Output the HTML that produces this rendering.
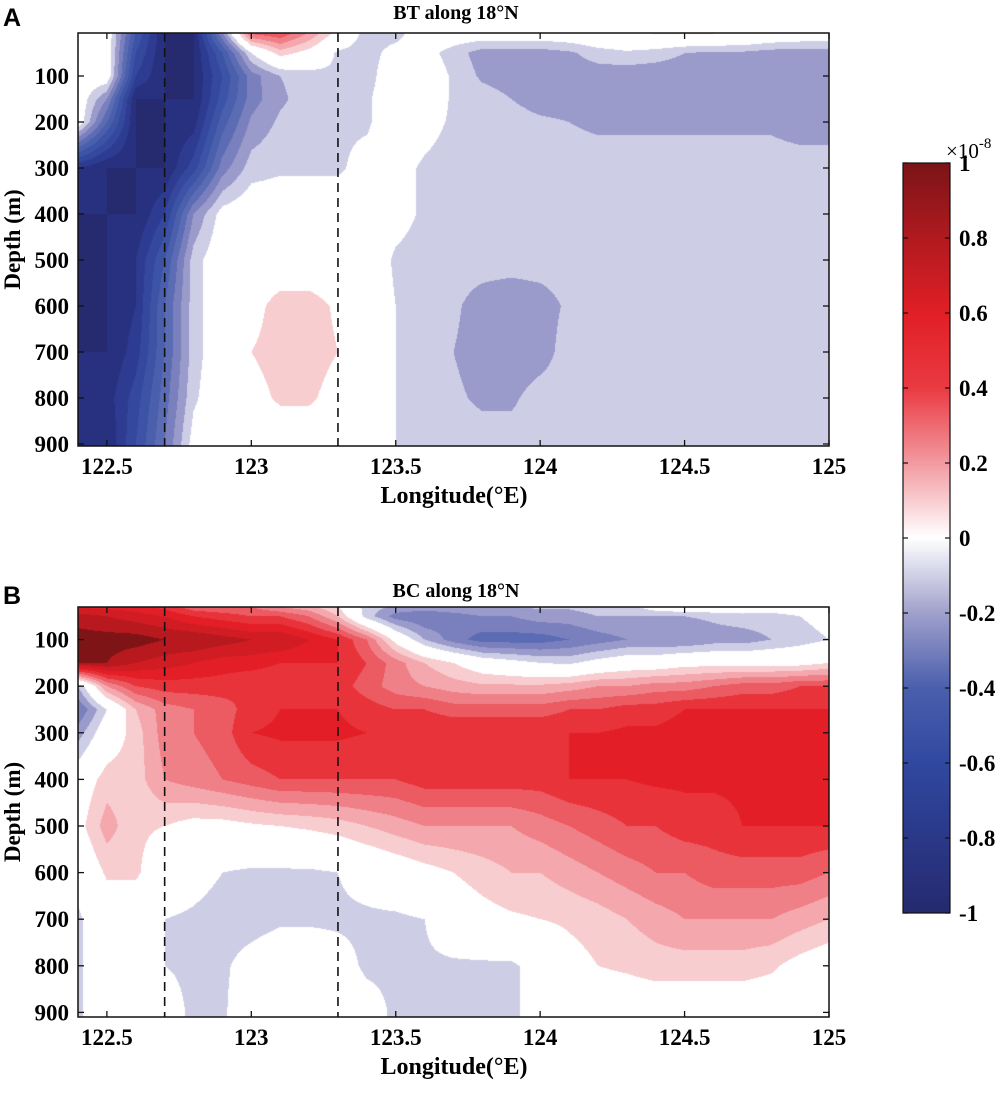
<!DOCTYPE html>
<html><head><meta charset="utf-8"><style>
body{margin:0;background:#fff;width:1005px;height:1095px;position:relative;overflow:hidden;font-family:"Liberation Serif",serif}
</style></head><body>
<svg id="svg" width="1005" height="1095" style="position:absolute;left:0;top:0"></svg>
<script>
const lons=[122.4,122.5,122.6,122.7,122.8,122.9,123.0,123.1,123.2,123.3,123.4,123.5,123.6,123.7,123.8,123.9,124.0,124.1,124.2,124.3,124.4,124.5,124.6,124.7,124.8,124.9,125.0];
const depthsA=[5,50,100,150,200,300,400,500,600,700,800,900];
const valuesA=[
[0,0,-0.6,-1,-1,-0.3,0.45,0.5,0.3,0.05,-0.15,-0.15,0,0,0,0,0,0.02,0.05,0.08,0.12,0.12,0.12,0.1,0.05,0.02,0],
[0,0,-0.7,-1,-1,-0.6,-0.1,0.15,0.05,-0.12,-0.15,-0.05,-0.05,-0.15,-0.25,-0.25,-0.25,-0.22,-0.15,-0.12,-0.15,-0.2,-0.22,-0.22,-0.25,-0.25,-0.25],
[0,0,-0.8,-1,-1,-0.7,-0.35,-0.2,-0.15,-0.12,-0.15,0,0,-0.12,-0.22,-0.25,-0.26,-0.26,-0.26,-0.27,-0.27,-0.27,-0.28,-0.28,-0.28,-0.28,-0.28],
[0,-0.3,-1,-1,-1,-0.65,-0.35,-0.22,-0.15,-0.12,-0.12,0,0,-0.12,-0.15,-0.2,-0.25,-0.25,-0.25,-0.25,-0.25,-0.25,-0.25,-0.25,-0.25,-0.25,-0.25],
[0,-0.5,-1,-1,-0.95,-0.55,-0.28,-0.18,-0.15,-0.12,-0.12,0,-0.05,-0.12,-0.15,-0.15,-0.18,-0.2,-0.22,-0.22,-0.22,-0.22,-0.22,-0.22,-0.22,-0.25,-0.25],
[-0.9,-1,-1,-1,-0.75,-0.35,-0.15,-0.12,-0.12,-0.12,-0.05,-0.05,-0.12,-0.15,-0.15,-0.15,-0.15,-0.15,-0.15,-0.15,-0.15,-0.15,-0.15,-0.15,-0.15,-0.15,-0.15],
[-1,-1,-1,-0.8,-0.3,-0.05,0,0,0,0,0,-0.05,-0.12,-0.15,-0.15,-0.15,-0.15,-0.15,-0.15,-0.15,-0.15,-0.15,-0.15,-0.15,-0.15,-0.15,-0.15],
[-1,-1,-0.9,-0.6,-0.15,0,0,0,0,0,0,-0.12,-0.15,-0.15,-0.15,-0.15,-0.15,-0.15,-0.15,-0.15,-0.15,-0.15,-0.15,-0.15,-0.15,-0.15,-0.15],
[-1,-1,-0.9,-0.5,-0.15,0,0.05,0.15,0.15,0.08,0,-0.1,-0.15,-0.18,-0.25,-0.28,-0.25,-0.18,-0.15,-0.15,-0.15,-0.15,-0.15,-0.15,-0.15,-0.15,-0.15],
[-1,-1,-0.85,-0.5,-0.15,0,0.1,0.15,0.15,0.1,0,-0.1,-0.15,-0.2,-0.25,-0.28,-0.25,-0.15,-0.15,-0.15,-0.15,-0.15,-0.15,-0.15,-0.15,-0.15,-0.15],
[-1,-0.95,-0.75,-0.45,-0.12,0,0.05,0.12,0.12,0.05,0,-0.1,-0.15,-0.18,-0.22,-0.22,-0.15,-0.15,-0.15,-0.15,-0.15,-0.15,-0.15,-0.15,-0.15,-0.15,-0.15],
[-0.9,-1,-0.7,-0.4,-0.05,0,0,0,0,0,0,-0.1,-0.15,-0.15,-0.15,-0.15,-0.15,-0.15,-0.15,-0.15,-0.15,-0.15,-0.15,-0.15,-0.15,-0.15,-0.15]];
const depthsB=[20,50,100,150,200,250,300,400,500,600,700,800,900];
const valuesB=[
[0.6,0.6,0.6,0.5,0.35,0.35,0.35,0.2,0.15,0.05,-0.15,-0.15,-0.15,-0.15,-0.15,-0.15,-0.15,-0.15,-0.12,-0.12,0.05,0.12,0.12,0.1,0.05,0.05,0.12],
[0.85,0.8,0.75,0.7,0.6,0.55,0.5,0.5,0.4,0.2,-0.15,-0.35,-0.4,-0.35,-0.3,-0.3,-0.25,-0.25,-0.2,-0.2,-0.2,-0.2,-0.18,-0.15,-0.15,-0.1,-0.05],
[0.95,0.95,0.95,0.9,0.9,0.85,0.8,0.8,0.7,0.6,0.4,0.05,-0.2,-0.35,-0.45,-0.45,-0.45,-0.4,-0.35,-0.3,-0.3,-0.3,-0.25,-0.25,-0.2,-0.15,-0.1],
[0.9,0.9,0.8,0.75,0.7,0.65,0.65,0.6,0.6,0.6,0.5,0.35,0.2,0.1,0,-0.05,-0.1,-0.12,-0.05,0,0,0.05,0.05,0.05,0.05,0.05,0.1],
[-0.2,0.3,0.5,0.55,0.55,0.55,0.5,0.5,0.55,0.55,0.45,0.35,0.3,0.25,0.22,0.22,0.22,0.25,0.3,0.3,0.35,0.35,0.4,0.45,0.45,0.5,0.5],
[-0.4,-0.1,0.2,0.35,0.4,0.45,0.55,0.6,0.6,0.6,0.55,0.5,0.5,0.45,0.45,0.45,0.45,0.5,0.5,0.55,0.55,0.6,0.6,0.6,0.6,0.6,0.6],
[-0.25,0,0.15,0.35,0.4,0.45,0.6,0.62,0.62,0.62,0.6,0.6,0.6,0.6,0.6,0.6,0.6,0.6,0.6,0.62,0.62,0.65,0.65,0.65,0.65,0.7,0.65],
[0,0.15,0.15,0.3,0.35,0.4,0.45,0.5,0.5,0.5,0.5,0.5,0.55,0.55,0.55,0.55,0.55,0.6,0.6,0.6,0.62,0.62,0.62,0.62,0.62,0.65,0.65],
[0.05,0.25,0.12,0.1,0.05,0.05,0.08,0.1,0.12,0.15,0.2,0.25,0.3,0.3,0.3,0.3,0.35,0.4,0.45,0.5,0.5,0.55,0.55,0.6,0.6,0.6,0.6],
[-0.05,0.12,0.12,0,-0.05,-0.1,-0.12,-0.12,-0.12,-0.1,-0.05,0,0.05,0.1,0.15,0.2,0.2,0.25,0.3,0.35,0.4,0.4,0.45,0.45,0.45,0.45,0.4],
[-0.12,0,0,-0.1,-0.12,-0.15,-0.15,-0.12,-0.12,-0.12,-0.12,-0.12,-0.1,0,0.05,0.08,0.1,0.12,0.15,0.2,0.25,0.3,0.3,0.3,0.3,0.25,0.2],
[-0.12,0,0,-0.1,-0.12,-0.12,-0.05,0,0,-0.05,-0.12,-0.12,-0.12,-0.12,-0.12,-0.12,-0.05,0.05,0.1,0.12,0.15,0.15,0.15,0.15,0.12,0.05,0],
[-0.12,0,0,-0.05,-0.12,-0.12,0,0,0,0,-0.05,-0.12,-0.12,-0.12,-0.12,-0.12,-0.05,0,0,0,0,0,0,0,0,0,0]];
const xTicks=[122.5,123,123.5,124,124.5,125];
const xTickLabels=["122.5","123","123.5","124","124.5","125"];
const yTicks=[100,200,300,400,500,600,700,800,900];
const cbTicks=[1,0.8,0.6,0.4,0.2,0,-0.2,-0.4,-0.6,-0.8,-1];
const cbTickLabels=["1","0.8","0.6","0.4","0.2","0","-0.2","-0.4","-0.6","-0.8","-1"];
const dashedLons=[122.7,123.3];

const posCols=["#ffffff","#f8cdd0","#f4a8ad","#f08088","#ec5a62","#e8333a","#e31e26","#d21c23","#b8191e","#7f1416","#7f1416"];
const negCols=["#ffffff","#cdcde6","#9a9acb","#7a80bd","#5c6cb4","#4a60ad","#3c53a6","#34489d","#2d3c90","#283180","#262a6e"];
function bandColor(v){
  if(v>=0.1) return posCols[Math.min(10,Math.floor(v*10+1e-9))];
  if(v<=-0.1) return negCols[Math.min(10,Math.floor(-v*10+1e-9))];
  return "#ffffff";
}
const X0=78,X1=829,L0=122.4,L1=125;
const xs=l=>X0+(l-L0)/(L1-L0)*(X1-X0);
const NS="http://www.w3.org/2000/svg";
const svg=document.getElementById('svg');
function mk(tag,attrs,parent){const e=document.createElementNS(NS,tag);for(const k in attrs)e.setAttribute(k,attrs[k]);(parent||svg).appendChild(e);return e;}
function interp(grid,depths,lon,d){
  let fi=(lon-L0)/0.1; fi=Math.max(0,Math.min(lons.length-1.0001,fi));
  const i=Math.floor(fi),tx=fi-i;
  let j=0; if(d<=depths[0]){j=0;} else {while(j<depths.length-2&&d>depths[j+1])j++;}
  let ty=(d-depths[j])/(depths[j+1]-depths[j]); ty=Math.max(0,Math.min(1,ty));
  const a=grid[j][i],b=grid[j][i+1],c=grid[j+1][i],e=grid[j+1][i+1];
  return (a*(1-tx)+b*tx)*(1-ty)+(c*(1-tx)+e*tx)*ty;
}
function panel(name,grid,depths,top,bot,d0,scale,title,letter,titleY){
  const g=mk('g',{});
  
  
  const ys=d=>d0+d*scale;
  const fo=mk('foreignObject',{x:X0,y:top,width:X1-X0,height:bot-top},g);
  const cv=document.createElement('canvas');cv.width=X1-X0;cv.height=bot-top;
  
  
  fo.appendChild(cv);
  const ctx=cv.getContext('2d');
  for(let py=0;py<cv.height;py++){
    const d=(top+py+0.5-d0)/scale;
    for(let px=0;px<cv.width;px++){
      const lon=L0+(px+0.5)/(X1-X0)*(L1-L0);
      ctx.fillStyle=bandColor(interp(grid,depths,lon,d));
      ctx.fillRect(px,py,1,1);
    }
  }
  dashedLons.forEach(l=>{const ln=mk('line',{x1:xs(l),x2:xs(l),y1:top,y2:bot,stroke:'#111','stroke-width':1.6,'stroke-dasharray':'9,6'},g);
    
    });
  const fr=mk('rect',{x:X0,y:top,width:X1-X0,height:bot-top,fill:'none',stroke:'#111','stroke-width':1.5},g);
  
  
  xTicks.forEach((t,k)=>{const x=xs(t);
    mk('line',{x1:x,x2:x,y1:top,y2:top+6,stroke:'#111','stroke-width':1.3},g);
    mk('line',{x1:x,x2:x,y1:bot,y2:bot-6,stroke:'#111','stroke-width':1.3},g);
    const tx=mk('text',{x:x,y:bot+28,'text-anchor':'middle','font-size':23,'font-weight':'bold','font-family':'Liberation Serif, serif'},g);
    tx.textContent=xTickLabels[k];
    
    });
  yTicks.forEach(t=>{const y=ys(t);if(y>bot+2)return;
    mk('line',{x1:X0,x2:X0+6,y1:y,y2:y,stroke:'#111','stroke-width':1.3},g);
    mk('line',{x1:X1,x2:X1-6,y1:y,y2:y,stroke:'#111','stroke-width':1.3},g);
    const tx=mk('text',{x:X0-9,y:y+8,'text-anchor':'end','font-size':23,'font-weight':'bold','font-family':'Liberation Serif, serif'},g);
    tx.textContent=t;
    
    });
  const xl=mk('text',{x:454,y:bot+57,'text-anchor':'middle','font-size':24,'font-weight':'bold','font-family':'Liberation Serif, serif'},g);
  xl.textContent='Longitude(°E)';
  
  
  const yl=mk('text',{x:0,y:0,'text-anchor':'middle','font-size':23,'font-weight':'bold','font-family':'Liberation Serif, serif',transform:`translate(20,${(top+bot)/2}) rotate(-90)`},g);
  yl.textContent='Depth (m)';
  
  
  const tt=mk('text',{x:456,y:titleY,'text-anchor':'middle','font-size':20,'font-weight':'bold','font-family':'Liberation Serif, serif'},g);
  tt.textContent=title;
  
  
  const lt=mk('text',{x:3,y:titleY+7,'font-size':25,'font-weight':'bold','font-family':'Liberation Sans, sans-serif'},g);
  lt.textContent=letter;
  
  
}
panel('bt',valuesA,depthsA,33,446,30,0.46,'BT along 18°N','A',19);
panel('bc',valuesB,depthsB,607,1017,593,0.466,'BC along 18°N','B',597);

const CB={x:903,y:163,w:47,h:750};
const defs=mk('defs',{});
const lg=mk('linearGradient',{id:'cbg',x1:0,y1:0,x2:0,y2:1},defs);
const stops=[[0,'#7a1416'],[0.1,'#b01a1f'],[0.2,'#e11e26'],[0.3,'#ea3a42'],[0.4,'#f29aa0'],[0.5,'#ffffff'],[0.6,'#a0a0cc'],[0.7,'#4a5fac'],[0.8,'#3048a0'],[0.9,'#2a3888'],[1,'#262a6e']];
stops.forEach(s=>mk('stop',{offset:s[0],'stop-color':s[1]},lg));
const cb=mk('rect',{x:CB.x,y:CB.y,width:CB.w,height:CB.h,fill:'url(#cbg)',stroke:'#111','stroke-width':1.2});


cbTicks.forEach((t,k)=>{const y=CB.y+(1-t)/2*CB.h;
  mk('line',{x1:CB.x+CB.w-5,x2:CB.x+CB.w,y1:y,y2:y,stroke:'#111','stroke-width':1.2});
  mk('line',{x1:CB.x,x2:CB.x+5,y1:y,y2:y,stroke:'#111','stroke-width':1.2});
  const tx=mk('text',{x:CB.x+CB.w+9,y:y+8,'font-size':23,'font-weight':'bold','font-family':'Liberation Serif, serif'});
  tx.textContent=cbTickLabels[k];
  
  });
const ex=mk('text',{x:946,y:158,'font-size':21,'font-family':'Liberation Serif, serif'});
ex.innerHTML='×10<tspan dy="-10" font-size="15">-8</tspan>';


</script>
</body></html>
